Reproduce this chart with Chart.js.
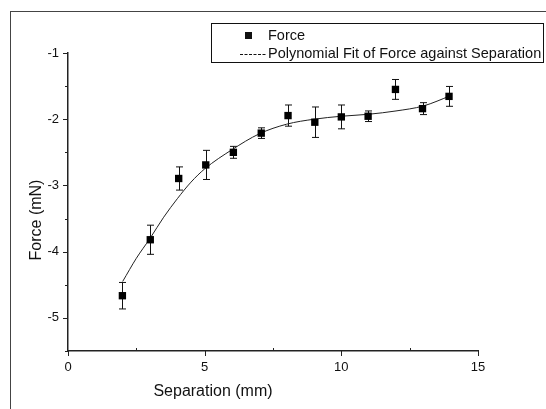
<!DOCTYPE html>
<html>
<head>
<meta charset="utf-8">
<script src="https://cdn.jsdelivr.net/npm/chart.js@4.4.1/dist/chart.umd.min.js"></script>
<style>
  html, body { margin: 0; padding: 0; background: #fff; }
  #wrap { position: relative; width: 546px; height: 409px; overflow: hidden; }
  #frame { position: absolute; left: 10px; top: 11px; width: 600px; height: 500px;
           border-top: 1px solid #444; border-left: 1px solid #444; }
  #js--chart { position: absolute; left: 0; top: 0; }
</style>
</head>
<body>
<div id="wrap">
  <div id="frame"></div>
  <canvas id="js--chart" width="546" height="409"></canvas>
</div>
<script>
// meetpunten
const separation = [1.99, 3.01, 4.05, 5.04, 6.05, 7.07, 8.05, 9.03, 10.0, 10.98, 11.98, 12.97, 13.94];
const force = [-4.665, -3.82, -2.895, -2.69, -2.5, -2.21, -1.945, -2.045, -1.965, -1.955, -1.55, -1.84, -1.655];
const forceErr = [0.2, 0.22, 0.175, 0.22, 0.09, 0.08, 0.16, 0.23, 0.18, 0.08, 0.15, 0.09, 0.15];

// polynomial fit, punten langs de getekende lijn
const fitX = [2, 2.5, 3, 3.5, 4, 4.5, 5, 6, 7, 8, 9, 10, 11, 12, 13, 14];
const fitY = [-4.45, -4.1, -3.8, -3.48, -3.2, -2.95, -2.75, -2.46, -2.22, -2.075, -2.0, -1.955, -1.925, -1.875, -1.8, -1.645];

// ticks
const xTicks = [0, 5, 10, 15];
const xMinor = [2.5, 7.5, 12.5];
const yTicks = [-1, -2, -3, -4, -5];
const yMinor = [-1.5, -2.5, -3.5, -4.5, -5.5];

const labels = ['Force', 'Polynomial Fit of Force against Separation'];
const xTitle = 'Separation (mm)';
const yTitle = 'Force (mN)';

const FONT = '"Liberation Sans", Arial, sans-serif';

const forcePoints = separation.map((x, i) => ({ x: x, y: force[i] }));
const fitPoints = fitX.map((x, i) => ({ x: x, y: fitY[i] }));

// error bars, ticks, titels en legenda
const extras = {
    id: 'extras',
    beforeDatasetsDraw(chart) {
        const c = chart.ctx;
        const xs = chart.scales.x, ys = chart.scales.y;
        c.save();
        c.strokeStyle = '#111';
        c.lineWidth = 1;
        for (let i = 0; i < separation.length; i++) {
            const px = Math.round(xs.getPixelForValue(separation[i])) + 0.5;
            const top = ys.getPixelForValue(force[i] + forceErr[i]);
            const bot = ys.getPixelForValue(force[i] - forceErr[i]);
            c.beginPath();
            c.moveTo(px, top); c.lineTo(px, bot);
            c.moveTo(px - 3.5, top); c.lineTo(px + 3.5, top);
            c.moveTo(px - 3.5, bot); c.lineTo(px + 3.5, bot);
            c.stroke();
        }
        c.restore();
    },
    afterDraw(chart) {
        const c = chart.ctx;
        const xs = chart.scales.x, ys = chart.scales.y;
        const area = chart.chartArea;
        c.save();
        c.strokeStyle = '#222';
        c.lineWidth = 1;
        c.beginPath();
        xTicks.forEach(v => {
            const p = Math.round(xs.getPixelForValue(v)) + 0.5;
            c.moveTo(p, area.bottom); c.lineTo(p, area.bottom + 5);
        });
        xMinor.forEach(v => {
            const p = Math.round(xs.getPixelForValue(v)) + 0.5;
            c.moveTo(p, area.bottom); c.lineTo(p, area.bottom - 3);
        });
        yTicks.forEach(v => {
            const p = Math.round(ys.getPixelForValue(v)) + 0.5;
            c.moveTo(area.left, p); c.lineTo(area.left - 5, p);
        });
        yMinor.forEach(v => {
            const p = Math.round(ys.getPixelForValue(v)) + 0.5;
            c.moveTo(area.left, p); c.lineTo(area.left - 3, p);
        });
        c.stroke();

        // as titels
        c.fillStyle = '#111';
        c.font = '16px ' + FONT;
        c.textAlign = 'center';
        c.textBaseline = 'middle';
        c.fillText(xTitle, 213, 392);
        c.save();
        c.translate(37, 220);
        c.rotate(-Math.PI / 2);
        c.fillText(yTitle, 0, 0);
        c.restore();

        // legenda
        c.fillStyle = '#fff';
        c.fillRect(211, 23, 332, 39);
        c.strokeStyle = '#111';
        c.strokeRect(211.5, 23.5, 332, 39);
        c.fillStyle = '#111';
        c.fillRect(245, 32, 7, 7);
        c.beginPath();
        c.setLineDash([3, 1.5]);
        c.moveTo(240, 54.5); c.lineTo(266, 54.5);
        c.stroke();
        c.setLineDash([]);
        c.font = '14.5px ' + FONT;
        c.textAlign = 'left';
        c.fillText(labels[0], 268, 36);
        c.fillText(labels[1], 268, 54);
        c.restore();
    }
};

const ctx = document.getElementById('js--chart');

new Chart(ctx, {
    type: 'scatter',
    data: {
        datasets: [{
            label: labels[0],
            data: forcePoints,
            pointStyle: 'rect',
            pointRadius: 5.2,
            pointHoverRadius: 5.2,
            backgroundColor: '#000',
            borderColor: '#000',
            borderWidth: 0,
            showLine: false,
            order: 1
        }, {
            label: labels[1],
            type: 'line',
            data: fitPoints,
            borderColor: '#222',
            borderWidth: 1,
            pointRadius: 0,
            fill: false,
            cubicInterpolationMode: 'monotone',
            order: 2
        }]
    },
    options: {
        responsive: false,
        animation: false,
        devicePixelRatio: 1,
        layout: { padding: { top: 53, right: 68, left: 0, bottom: 0 } },
        plugins: {
            legend: { display: false },
            tooltip: { enabled: false }
        },
        scales: {
            x: {
                type: 'linear',
                min: 0,
                max: 15,
                afterFit: scale => { scale.height = 58; },
                grid: { display: false },
                border: { display: true, color: '#222', width: 1.5 },
                ticks: {
                    stepSize: 5,
                    padding: 1,
                    color: '#111',
                    font: { family: FONT, size: 13 },
                    maxRotation: 0
                }
            },
            y: {
                min: -5.5,
                max: -1,
                afterFit: scale => { scale.width = 68; },
                grid: { display: false },
                border: { display: true, color: '#222', width: 1.5 },
                ticks: {
                    stepSize: 1,
                    padding: 1,
                    color: '#111',
                    font: { family: FONT, size: 13 },
                    callback: v => Number.isInteger(v) ? String(v) : ''
                }
            }
        }
    },
    plugins: [extras]
});
</script>
</body>
</html>
